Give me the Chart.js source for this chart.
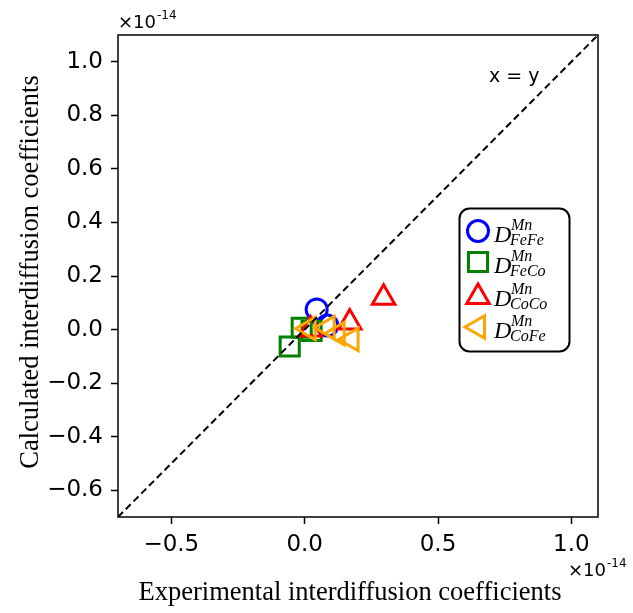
<!DOCTYPE html>
<html>
<head>
<meta charset="utf-8">
<script src="https://cdn.jsdelivr.net/npm/chart.js@4/dist/chart.umd.min.js"></script>
<style>
  html, body { margin: 0; padding: 0; background: #fff; }
  #wrap { width: 633px; height: 613px; position: relative; }
</style>
</head>
<body>
<div id="wrap"><canvas id="c"></canvas></div>
<script>
// values in units of 1e-14
var feFeX = [0.045, 0.085];
var feFeY = [0.075, 0.015];
var feCoX = [-0.011, -0.056, 0.026];
var feCoY = [0.007, -0.063, -0.005];
var coCoX = [0.296, 0.169, 0.022];
var coCoY = [0.119, 0.026, 0.0];
var coFeX = [0.015, 0.086, 0.124, 0.176];
var coFeY = [0.004, 0.007, -0.015, -0.037];
var diagX = [-0.7, 1.1];
var xTicks = [-0.5, 0.0, 0.5, 1.0];
var yTicks = [-0.6, -0.4, -0.2, 0.0, 0.2, 0.4, 0.6, 0.8, 1.0];
var seriesNames = ['FeFe', 'FeCo', 'CoCo', 'CoFe'];
var xTitle = 'Experimental interdiffusion coefficients';
var yTitle = 'Calculated interdiffusion coefficients';

function pts(xs, ys) {
  return xs.map(function (x, i) { return { x: x, y: ys[i] }; });
}
function fmt(v) {
  var s = v.toFixed(1);
  return s.charAt(0) === '-' ? '\u2212' + s.slice(1) : s;
}

var markers = [
  { color: 'blue', style: 'circle', radius: 10.5, rot: 0 },
  { color: 'green', style: 'rect', radius: 13.5, rot: 0 },
  { color: 'red', style: 'triangle', radius: 13, rot: 0 },
  { color: 'orange', style: 'triangle', radius: 13, rot: -90 }
];

// box, axis titles, offset texts and the legend
var decor = {
  id: 'decor',
  afterDatasetsDraw: function (chart) {
    var ctx = chart.ctx, a = chart.chartArea;
    ctx.save();
    ctx.strokeStyle = '#111';
    ctx.lineWidth = 1.6;
    ctx.strokeRect(a.left, a.top, a.right - a.left, a.bottom - a.top);

    ctx.fillStyle = '#000';
    ctx.textBaseline = 'alphabetic';

    // axis titles
    ctx.font = '26.5px "Liberation Serif"';
    ctx.textAlign = 'center';
    ctx.fillText(xTitle, 350, 600);
    ctx.save();
    ctx.translate(38, 272);
    ctx.rotate(-Math.PI / 2);
    ctx.fillText(yTitle, 0, 0);
    ctx.restore();
    ctx.textAlign = 'left';

    // x = y label
    ctx.font = '19px "DejaVu Sans"';
    ctx.fillText('x = y', 489, 82);

    // ×10^-14
    function offsetText(x, y) {
      ctx.font = '18px "DejaVu Sans"';
      ctx.fillText('\u00d710', x, y);
      var w = ctx.measureText('\u00d710').width;
      ctx.font = '12px "DejaVu Sans"';
      ctx.fillText('-14', x + w + 1, y - 9);
    }
    offsetText(118, 28);
    offsetText(568, 576);

    // legend
    ctx.beginPath();
    ctx.roundRect(459.5, 208.5, 110, 143, 10);
    ctx.fillStyle = '#fff';
    ctx.fill();
    ctx.lineWidth = 2;
    ctx.strokeStyle = '#000';
    ctx.stroke();
    var rows = [231, 262, 295, 327];
    markers.forEach(function (m, i) {
      ctx.lineWidth = 3;
      ctx.strokeStyle = m.color;
      ctx.fillStyle = 'rgba(0,0,0,0)';
      Chart.helpers.drawPoint(ctx, { pointStyle: m.style, radius: m.radius, rotation: m.rot, borderWidth: 3 }, 478, rows[i] + (m.style === 'triangle' && m.rot === 0 ? 2 : 0));
      ctx.fillStyle = '#000';
      ctx.font = 'italic 24px "Liberation Serif"';
      ctx.fillText('D', 494, rows[i] + 11);
      ctx.font = 'italic 16px "Liberation Serif"';
      ctx.fillText('Mn', 511, rows[i] - 1);
      ctx.fillText(seriesNames[i], 510, rows[i] + 14);
    });
    ctx.restore();
  }
};

new Chart(document.getElementById('c'), {
  type: 'scatter',
  data: {
    datasets: [
      { label: 'x = y', type: 'line', data: pts(diagX, diagX), borderColor: '#000', borderWidth: 2, borderDash: [7, 4], pointRadius: 0, fill: false, order: 0 },
      { label: 'FeFe', data: pts(feFeX, feFeY), pointStyle: 'circle', pointRadius: markers[0].radius, borderColor: 'blue', backgroundColor: 'rgba(0,0,0,0)', borderWidth: 3, order: 4 },
      { label: 'FeCo', data: pts(feCoX, feCoY), pointStyle: 'rect', pointRadius: markers[1].radius, borderColor: 'green', backgroundColor: 'rgba(0,0,0,0)', borderWidth: 3, order: 3 },
      { label: 'CoCo', data: pts(coCoX, coCoY), pointStyle: 'triangle', pointRadius: markers[2].radius, borderColor: 'red', backgroundColor: 'rgba(0,0,0,0)', borderWidth: 3, order: 2 },
      { label: 'CoFe', data: pts(coFeX, coFeY), pointStyle: 'triangle', rotation: -90, pointRadius: markers[3].radius, borderColor: 'orange', backgroundColor: 'rgba(0,0,0,0)', borderWidth: 3, order: 1 }
    ]
  },
  options: {
    responsive: true,
    maintainAspectRatio: false,
    animation: false,
    layout: { padding: { left: 0, right: 35, top: 35, bottom: 0 } },
    plugins: { legend: { display: false }, tooltip: { enabled: false } },
    scales: {
      x: {
        type: 'linear', min: -0.7, max: 1.1,
        afterBuildTicks: function (s) { s.ticks = xTicks.map(function (v) { return { value: v }; }); },
        afterFit: function (s) { s.height = 96; },
        grid: { drawOnChartArea: false, drawTicks: true, tickLength: 7, tickColor: '#000', tickWidth: 1.5 },
        border: { display: false },
        ticks: { color: '#000', font: { family: 'DejaVu Sans', size: 23 }, padding: 7, maxRotation: 0, callback: function (v) { return fmt(v); } },
        title: { display: false }
      },
      y: {
        type: 'linear', min: -0.7, max: 1.1,
        afterBuildTicks: function (s) { s.ticks = yTicks.map(function (v) { return { value: v }; }); },
        afterFit: function (s) { s.width = 118; },
        grid: { drawOnChartArea: false, drawTicks: true, tickLength: 7, tickColor: '#000', tickWidth: 1.5 },
        border: { display: false },
        ticks: { color: '#000', font: { family: 'DejaVu Sans', size: 23 }, padding: 8, callback: function (v) { return fmt(v); } },
        title: { display: false }
      }
    }
  },
  plugins: [decor]
});
</script>
</body>
</html>
